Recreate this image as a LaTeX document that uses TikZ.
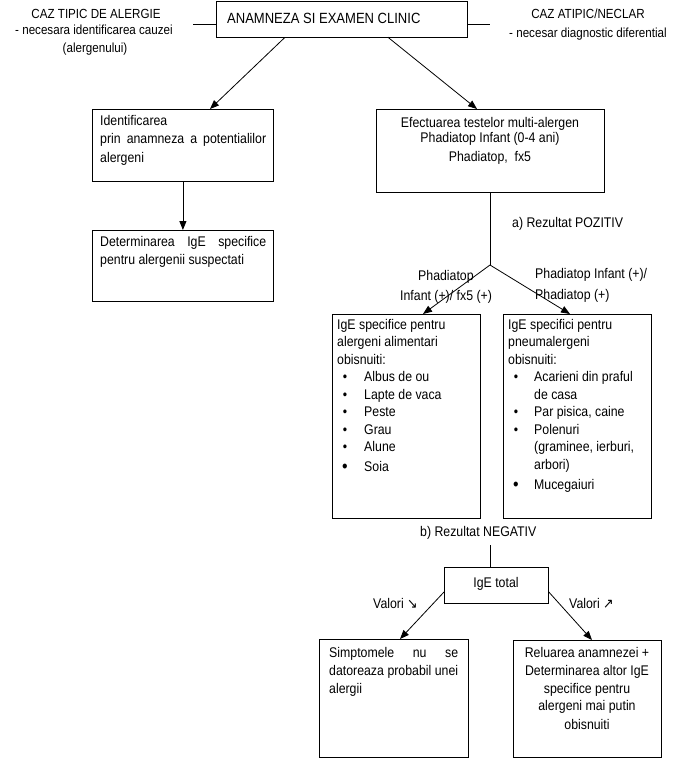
\documentclass[tikz,border=0pt]{standalone}
\usepackage{fontspec}
\setmainfont[FakeStretch=0.88]{Liberation Sans}
\newfontfamily\arrowfont[FakeStretch=0.9]{DejaVu Sans}
\usetikzlibrary{arrows.meta,calc}
\newcommand{\fsbody}{\fontsize{14}{17}\selectfont}
\newcommand{\fsside}{\fontsize{13.2}{15}\selectfont}
\begin{document}
\begin{tikzpicture}[x=1pt,y=-1pt,
  box/.style={draw, line width=0.8pt, inner sep=0pt, anchor=north west},
  lbl/.style={inner sep=0pt, anchor=base west, font=\fsbody},
  lblc/.style={inner sep=0pt, anchor=base, font=\fsbody},
  side/.style={inner sep=0pt, anchor=base, font=\fsside},
  arr/.style={line width=0.8pt, -{Triangle[length=9pt,width=7pt]}},
  ln/.style={line width=0.8pt},
  bul/.style={inner sep=0pt, anchor=base, font=\fsbody}]
\useasboundingbox (0,0) rectangle (697,758);

% ---- top
\node[box, minimum width=251pt, minimum height=36pt] (top) at (216,0.5) {};
\node[lbl, font=\fontsize{14.8}{17}\selectfont] (toptxt) at (227,23) {ANAMNEZA SI EXAMEN CLINIC};
\coordinate (lend) at (193,24);
\coordinate (rend) at (490,24);
\draw[ln] (lend) -- (lend -| top.west);
\draw[ln] (top.east |- rend) -- (rend);

\node[side] (l1) at (96,18.5) {CAZ TIPIC DE ALERGIE};
\node[side] (l2) at (94,34) {- necesara identificarea cauzei};
\node[side] (l3) at (95,52.5) {(alergenului)};
\node[side] (r1) at (588,18) {CAZ ATIPIC/NECLAR};
\node[side] (r2) at (588,37) {- necesar diagnostic diferential};

% ---- left column
\node[box, minimum width=181pt, minimum height=72pt] (b1) at (92,109) {};
\node[lbl] (b1a) at (100,125) {Identificarea};
\node[lbl] (b1b) at (100,143) {\makebox[166pt][s]{prin anamneza a potentialilor}};
\node[lbl] (b1c) at (100,162) {alergeni};

\node[box, minimum width=181pt, minimum height=71pt] (b2) at (92,230) {};
\node[lbl] (b2a) at (100,246) {\makebox[166pt][s]{Determinarea IgE specifice}};
\node[lbl] (b2b) at (100,264) {pentru alergenii suspectati};

\draw[arr] (b1.south) -- (b2.north);
\draw[arr] ($(top.south west)+(69,0)$) -- ($(b1.north west)+(118,0)$);

% ---- right column
\node[box, minimum width=228pt, minimum height=83pt] (b3) at (376,109) {};
\node[lblc] (b3a) at (490,127) {Efectuarea testelor multi-alergen};
\node[lblc] (b3b) at (490,142) {Phadiatop Infant (0-4 ani)};
\node[lblc] (b3c) at (490,161) {Phadiatop,\ \ fx5};
\draw[arr] ($(top.south west)+(172,0)$) -- ($(b3.north west)+(101,0)$);

\coordinate (br) at (490,265);
\draw[ln] (b3.south -| br) -- (br);
\node[lbl] (poz) at (512,227) {a) Rezultat POZITIV};

% ---- boxes A and B
\node[box, minimum width=148pt, minimum height=204pt] (bA) at (332,314) {};
\node[box, minimum width=148pt, minimum height=204pt] (bB) at (503,314) {};

\draw[arr] (br) -- ($(bA.north west)+(91,0)$);
\draw[arr] (br) -- ($(bB.north west)+(67,0)$);

\node[lbl] (pl1) at (418,280) {Phadiatop};
\node[lbl] (pl2) at (400,300) {Infant (+)/ fx5 (+)};
\node[lbl] (pr1) at (535,278) {Phadiatop Infant (+)/};
\node[lbl] (pr2) at (535,299) {Phadiatop (+)};

% box A text
\node[lbl] (a1) at (337,329) {IgE specifice pentru};
\node[lbl] (a2) at (337,346.5) {alergeni alimentari};
\node[lbl] (a3) at (337,364) {obisnuiti:};
\foreach \t/\yy [count=\i] in {Albus de ou/381.5, Lapte de vaca/399, Peste/416.5, Grau/434, Alune/451.5}{
  \node[bul] (abul\i) at (345,\yy) {•};
  \node[lbl] (ait\i) at (364,\yy) {\t};
}
\node[bul, font=\fontsize{18}{17}\selectfont] (abul6) at (345,472) {•};
\node[lbl] (ait6) at (364,471) {Soia};

% box B text
\node[lbl] (bb1) at (508,329) {IgE specifici pentru};
\node[lbl] (bb2) at (508,346.5) {pneumalergeni};
\node[lbl] (bb3) at (508,364) {obisnuiti:};
\node[bul] (bbul1) at (516,381.5) {•};
\node[lbl] (bit1) at (534,381.5) {Acarieni din praful};
\node[lbl] (bit1b) at (534,399) {de casa};
\node[bul] (bbul2) at (516,416.5) {•};
\node[lbl] (bit2) at (534,416.5) {Par pisica, caine};
\node[bul] (bbul3) at (516,434) {•};
\node[lbl] (bit3) at (534,434) {Polenuri};
\node[lbl] (bit3b) at (534,451.5) {(graminee, ierburi,};
\node[lbl] (bit3c) at (534,469) {arbori)};
\node[bul, font=\fontsize{18}{17}\selectfont] (bbul4) at (516,490) {•};
\node[lbl] (bit4) at (534,489) {Mucegaiuri};

% ---- negative branch
\node[lbl] (neg) at (420,536) {b) Rezultat NEGATIV};
\node[box, minimum width=104pt, minimum height=36pt] (ige) at (444,567) {};
\node[lblc] (igetxt) at (496,587) {IgE total};
\coordinate (negtop) at (490,545);
\draw[ln] (negtop) -- (negtop |- ige.north);

\node[box, minimum width=149pt, minimum height=118pt] (bL) at (319,639) {};
\node[box, minimum width=148pt, minimum height=117pt] (bR) at (513,640) {};

\draw[arr] ($(ige.north west)+(0,25)$) -- ($(bL.north west)+(81,0)$);
\draw[arr] ($(ige.north east)+(0,25)$) -- ($(bR.north west)+(79,0)$);

\node[lbl] (vl) at (373,608) {Valori {\arrowfont\fontsize{14}{14}\selectfont ↘}};
\node[lbl] (vr) at (569,608) {Valori {\arrowfont\fontsize{14}{14}\selectfont ↗}};

\node[lbl] (bl1) at (329,657) {\makebox[129pt][s]{Simptomele nu se}};
\node[lbl] (bl2) at (329,675) {\makebox[129pt][s]{datoreaza probabil unei}};
\node[lbl] (bl3) at (329,693) {alergii};

\node[lblc] (br1) at (587,657) {Reluarea anamnezei +};
\node[lblc] (br2) at (587,675) {Determinarea altor IgE};
\node[lblc] (br3) at (587,693) {specifice pentru};
\node[lblc] (br4) at (587,710) {alergeni mai putin};
\node[lblc] (br5) at (587,729) {obisnuiti};
\end{tikzpicture}
\end{document}
